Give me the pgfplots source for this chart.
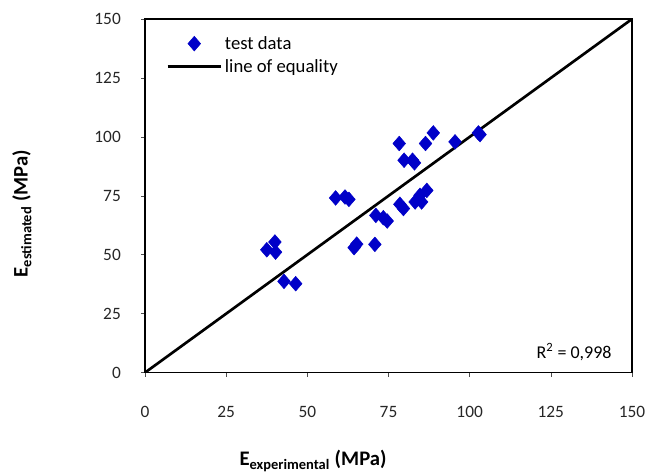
\documentclass[border=0pt]{standalone}
\usepackage{pgfplots}
\pgfplotsset{compat=1.18}
\usepackage{fontspec}
\setmainfont{Carlito}
\begin{document}
\begin{tikzpicture}
\begin{axis}[
    scale only axis,
    width=365pt, height=265pt,
    xmin=0, xmax=150, ymin=0, ymax=150,
    xtick={0,25,...,150}, ytick={0,25,...,150},
    tick align=outside,
    major tick length=3pt,
    tick style={black!70, thin},
    axis line style={black, line width=1.2pt},
    xtick pos=bottom, ytick pos=left,
    /pgf/number format/assume math mode=true,
    ticklabel style={font=\fontsize{13}{15}\selectfont, color=black!85, inner sep=1pt},
    xticklabel style={yshift=-21pt},
    yticklabel style={xshift=-14pt},
    xlabel={\textbf{E\textsubscript{experimental} (MPa)}},
    ylabel={\textbf{E\textsubscript{estimated} (MPa)}},
    label style={font=\fontsize{15.5}{17}\selectfont},
    xlabel style={at={(rel axis cs:0.345,-0.25)}, anchor=center},
    ylabel style={at={(rel axis cs:-0.253,0.45)}, anchor=center},
    legend style={draw=none, fill=none, at={(rel axis cs:0.043,0.96)}, anchor=north west,
        font=\fontsize{14}{16}\selectfont, row sep=2pt, inner sep=0pt},
    legend cell align=left,
    legend image code/.code={
        \path (0pt,0pt) (40pt,0pt);
        \draw[#1, mark repeat=2, mark phase=2] plot coordinates {(0pt,0pt) (20pt,0pt) (40pt,0pt)};
    },
]
\addplot[only marks, mark=diamond*, mark size=5.5pt, mark options={xscale=1.15},
    color={rgb,255:red,0;green,0;blue,200}] coordinates {
(37.5,52.1) (40.0,55.4) (40.2,51.1) (42.8,38.7) (46.4,37.7)
(58.7,74.1) (61.6,74.5) (62.8,73.5) (64.4,53.0) (65.2,54.5)
(70.8,54.4) (71.1,66.7) (73.4,65.7) (74.6,64.3)
(78.3,97.2) (78.5,71.4) (79.6,69.6) (79.8,90.1) (82.4,90.1) (83.0,89.0)
(83.2,72.4) (85.2,72.4) (84.7,75.2) (86.8,77.3) (86.4,97.2)
(88.8,101.7) (95.5,97.9) (102.7,101.7) (103.2,101.0)
};
\addlegendentry{test data}
\addplot[black, line width=2pt] coordinates {(0,0) (150,150)};
\addlegendentry{line of equality}
\node[anchor=south east, font=\fontsize{13.5}{15}\selectfont, inner sep=0pt]
    at (axis cs:143.8,5) {R\textsuperscript{2} = 0,998};
\coordinate (bl) at (rel axis cs:-0.298,-0.283);
\coordinate (tr) at (rel axis cs:1.033,1.054);
\end{axis}
\pgfresetboundingbox
\path[use as bounding box] (bl) rectangle (tr);
\end{tikzpicture}
\end{document}
